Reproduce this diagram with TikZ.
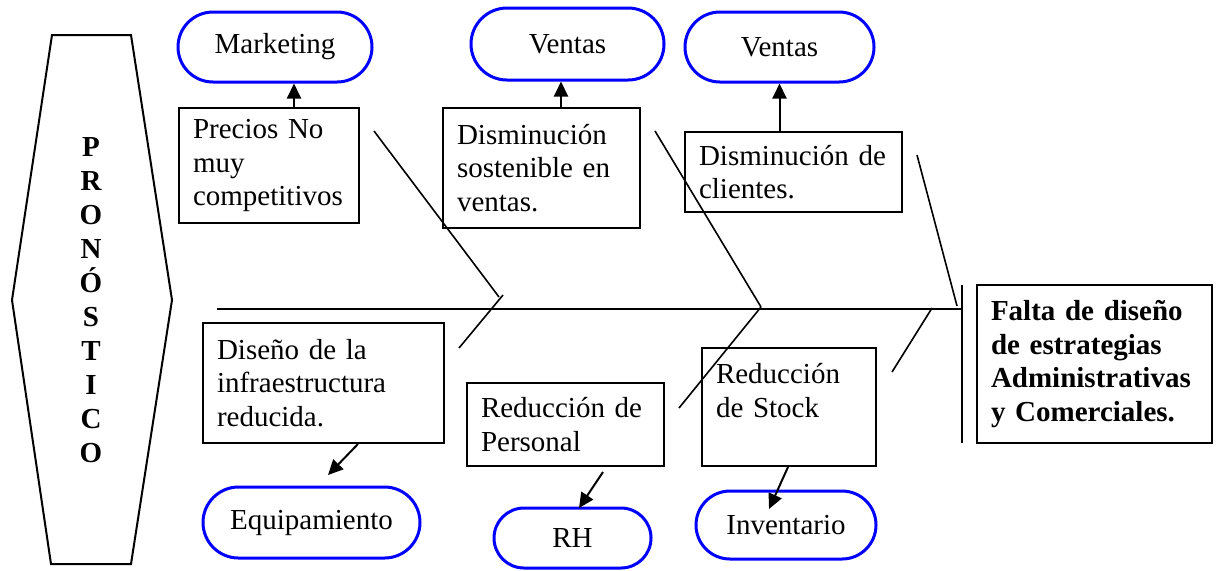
\documentclass[tikz,border=0pt]{standalone}
\usepackage{fontspec}
\setmainfont{Liberation Serif}
\usetikzlibrary{shapes.misc,arrows.meta}
\begin{document}
\begin{tikzpicture}[x=0.5pt,y=-0.5pt,
 txt/.style={font=\fontsize{14.5}{16.75}\selectfont},
 box/.style={draw,line width=1pt,rectangle,txt,align=left,inner xsep=7pt,inner ysep=0pt},
 oval/.style={draw=blue,line width=1.5pt,rounded rectangle,txt,inner sep=0pt},
 arr/.style={line width=1pt,-{Triangle[length=7.5pt,width=7pt]}},
 bone/.style={line width=0.8pt},
 spine/.style={line width=1pt}]
\useasboundingbox (0,0) rectangle (1218,570);

% left hexagon
\draw[line width=1pt] (52,35) -- (131,35) -- (172,300) -- (131,564) -- (51,564) -- (12,300) -- cycle;
\node[font=\fontsize{14.5}{17}\selectfont\bfseries,align=center,inner sep=0pt] (prono) at (91,300)
 {P\\R\\O\\N\\Ó\\S\\T\\I\\C\\O};

% top ovals
\node[oval,minimum width=97pt,minimum height=35pt] (mkt) at (275,47) {Marketing};
\node[oval,minimum width=96.5pt,minimum height=36pt] (v1) at (567.5,44) {Ventas};
\node[oval,minimum width=94.5pt,minimum height=35pt] (v2) at (779.5,47) {Ventas};

% top boxes
\node[box,minimum width=90pt,minimum height=57.5pt,text width=76pt] (precios) at (269,165.5)
 {Precios No\\muy\\competitivos};
\node[box,minimum width=98.5pt,minimum height=60pt,text width=84.5pt] (dsost) at (541.5,168)
 {Disminución\\sostenible en\\ventas.};
\node[box,minimum width=108.5pt,minimum height=40pt,text width=94.5pt] (dcli) at (793.5,172)
 {Disminución de\\clientes.};

% effect box
\node[box,minimum width=117.5pt,minimum height=79pt,text width=103.5pt,font=\fontsize{14.5}{16.75}\selectfont\bfseries] (falta) at (1094.5,364)
 {Falta de diseño\\de estrategias\\Administrativas\\y Comerciales.};

% bottom boxes
\node[box,minimum width=120.5pt,minimum height=60pt,text width=106.5pt] (diseno) at (323.5,383)
 {Diseño de la\\infraestructura\\reducida.};
\node[box,minimum width=98.5pt,minimum height=41.5pt,text width=84.5pt] (rpers) at (565.5,424.5)
 {Reducción de\\Personal};
\node[box,minimum width=87pt,minimum height=59pt,text width=73pt] (rstock) at (789,407)
 {Reducción\\de Stock\\\mbox{}};

% bottom ovals
\node[oval,minimum width=108.5pt,minimum height=35.5pt] (equip) at (311.5,522.5) {Equipamiento};
\node[oval,minimum width=78.5pt,minimum height=30pt] (rh) at (572.5,538) {RH};
\node[oval,minimum width=90pt,minimum height=34pt] (inv) at (786,525) {Inventario};

% spine and head line
\draw[spine] (217,309) -- (962,309);
\draw[spine] (962,285) -- (962,443);

% bones
\draw[bone] (374,131) -- (499,297);
\draw[bone] (459,348) -- (503,295);
\draw[bone] (655,131) -- (761,307);
\draw[bone] (679,408) -- (761,307);
\draw[bone] (917,155) -- (957,306);
\draw[bone] (892,372) -- (932,308);

% arrows up
\draw[arr] (precios.north -| 294,0) -- (mkt.south -| 294,0);
\draw[arr] (dsost.north -| 561,0) -- (v1.south -| 561,0);
\draw[arr] (v2.south |- dcli.north) -- (v2.south);

% arrows down
\coordinate (d0) at (358,444);
\coordinate (d1) at (328,475);
\draw[arr] (d0) -- (d1);
\coordinate (p0) at (603,472);
\coordinate (p1) at (579,508);
\draw[arr] (p0) -- (p1);
\coordinate (s0) at (788,467);
\coordinate (s1) at (769,509);
\draw[arr] (s0) -- (s1);
\end{tikzpicture}
\end{document}
